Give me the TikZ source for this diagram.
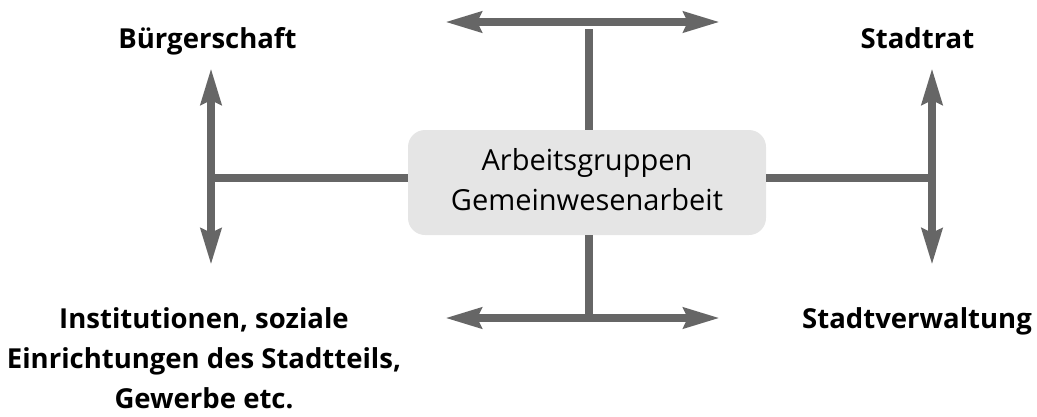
\documentclass[tikz,border=0pt]{standalone}
\usepackage{fontspec}
\setmainfont{Open Sans}
\usetikzlibrary{arrows.meta}
\definecolor{linkgray}{HTML}{666666}
\definecolor{boxgray}{HTML}{E5E5E5}
\tikzset{
  link/.style={draw=linkgray, line width=8pt},
  twoway/.style={link, {Stealth[length=36pt,width=20pt,inset=4pt]}-{Stealth[length=36pt,width=20pt,inset=4pt]}},
  centerbox/.style={fill=boxgray, rounded corners=17pt, minimum width=358pt, minimum height=105pt, inner sep=0pt},
  boxtext/.style={font=\fontsize{29pt}{40pt}\selectfont, anchor=base, inner sep=0pt},
  party/.style={font=\bfseries\fontsize{27.5pt}{40pt}\selectfont, anchor=base, inner sep=0pt},
}
\begin{document}
\begin{tikzpicture}[x=1pt, y=-1pt]
\useasboundingbox (0,0) rectangle (1037,416);

% central working group
\node[centerbox] (ag) at (587,182.5) {};
\node[boxtext] (ag1) at (587,170) {Arbeitsgruppen};
\node[boxtext] (ag2) at (587,210) {Gemeinwesenarbeit};

% junction points of the four connectors
\coordinate (jt) at (589,29);
\coordinate (jb) at (589,318);
\coordinate (jl) at (211,177.5);
\coordinate (jr) at (932,177.5);

% two-headed arrows
\coordinate (tl) at (445,22);  \coordinate (tr) at (720,22);
\coordinate (bl) at (445,318); \coordinate (br) at (720,318);
\coordinate (lt) at (211,68);  \coordinate (lb) at (211,265);
\coordinate (rt) at (932,68);  \coordinate (rb) at (932,265);
\draw[twoway] (tl) -- (tr);
\draw[twoway] (bl) -- (br);
\draw[twoway] (lt) -- (lb);
\draw[twoway] (rt) -- (rb);

% stems joining the box to the arrows
\draw[link] (ag.north -| jt) -- (jt);
\draw[link] (ag.south -| jb) -- (jb);
\draw[link] (ag.west |- jl) -- (jl);
\draw[link] (ag.east |- jr) -- (jr);

% the parties
\node[party] (buerger) at (207.5,48) {Bürgerschaft};
\node[party] (rat) at (917.5,48) {Stadtrat};
\node[party] (verw) at (917,328) {Stadtverwaltung};
\node[party] (inst1) at (204,328) {Institutionen, soziale};
\node[party] (inst2) at (204,368) {Einrichtungen des Stadtteils,};
\node[party] (inst3) at (204,408) {Gewerbe etc.};
\end{tikzpicture}
\end{document}
